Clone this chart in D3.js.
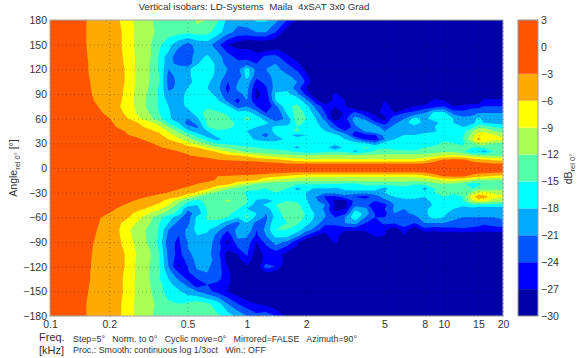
<!DOCTYPE html>
<html>
<head>
<meta charset="utf-8">
<script src="https://cdn.jsdelivr.net/npm/d3@7"></script>
<style>
  html, body { margin: 0; padding: 0; background: #fff; }
  text { font-family: "Liberation Sans", Arial, sans-serif; fill: #333; }
</style>
</head>
<body>
<div id="chart"></div>
<script>
const width = 580, height = 358;
const margin = { top: 20, right: 77, bottom: 42, left: 50 };

// frequency columns [kHz]
const freqs = [0.1,0.14,0.16,0.18,0.2,0.22,0.25,0.28,0.32,0.36,0.4,0.45,0.5,0.56,0.63,0.71,0.8,0.9,1,1.12,1.25,1.4,1.6,
  1.8,2,2.24,2.5,2.8,3.15,3.55,4,4.5,5,5.6,6.3,7.1,8,9,10,11.2,12.5,14,15,16,18,20];

// angle rows [deg]
const angles = [180,165,150,142,135,127,120,112,105,97,90,82,75,67,60,55,50,45,40,35,30,25,20,15,10,5,0,
  -5,-10,-15,-20,-25,-30,-35,-40,-45,-50,-55,-60,-67,-75,-82,-90,-97,-105,-112,-120,-127,-135,-142,-150,-165,-180];

// dB rel 0 deg, one row per angle
const dbRows = [
[0,-2,-3.5,-4.5,-4.5,-5.5,-8,-10,-11.5, -13,-13.5,-14,-14,-11,-12,-14.5,-19,-20,-19.5,-17.5,-17.5,-20,-24,
 -28,-30,-30,-30,-30,-30,-30,-30,-30,-30,-30,-30,-30,-30,-30,-30,-30,-30,-30,-30,-30,-30,-30],
[0,-2,-3.5,-4.5,-4.5,-5,-7.5,-10,-11, -13,-13.5,-14,-14.5,-14,-14,-16.5,-20,-22,-22,-21,-21,-24,-29,
 -30,-30,-30,-30,-30,-30,-30,-30,-30,-30,-30,-30,-30,-30,-30,-30,-30,-30,-30,-30,-30,-30,-30],
[0,-2,-3.5,-4.5,-4.5,-5,-7.5,-10,-11.5, -14.5,-17,-20,-22,-20,-19.5,-23,-27,-29,-30,-30,-30,-30,-30,
 -30,-30,-30,-30,-30,-30,-30,-30,-30,-30,-30,-30,-30,-30,-30,-30,-30,-30,-30,-30,-30,-30,-30],
[0,-2,-3.4,-4.5,-4.5,-5,-7.3,-10,-11.5, -15,-18,-22,-23,-20,-19,-21,-24.5,-26,-25.5,-27.5,-27,-26,-28,
 -30,-30,-30,-30,-30,-30,-30,-30,-30,-30,-30,-30,-30,-30,-30,-30,-30,-30,-30,-30,-30,-30,-30],
[0,-2,-3.3,-4.5,-4.5,-5,-7,-10,-11.5, -15.5,-20,-22.5,-23,-19,-17.5,-20,-22.5,-25,-25,-26,-23,-23,-26,
 -29,-30,-30,-30,-30,-30,-30,-30,-30,-30,-30,-30,-30,-30,-30,-30,-30,-30,-30,-30,-30,-30,-30],
[0,-2,-3.2,-4.5,-4.5,-5,-6.8,-10,-12, -15.5,-20,-22,-23,-18.5,-15,-19.5,-22,-23,-22.5,-24,-21.5,-21,-24,
 -26,-30,-30,-30,-30,-30,-30,-30,-30,-30,-30,-30,-30,-30,-30,-30,-30,-30,-30,-30,-30,-30,-30],
[0,-2,-3.2,-4.5,-4.5,-5,-6.5,-10,-12, -15.5,-21,-19,-19,-15.5,-15.5,-19,-21,-22,-16.5,-22,-21,-20,-22.5,
 -24.5,-28,-30,-30,-30,-30,-30,-30,-30,-30,-30,-30,-30,-30,-30,-30,-30,-30,-30,-30,-30,-30,-30],
[0,-2,-3.1,-4.5,-4.5,-5,-6.5,-10,-12, -15,-22,-20,-19,-16,-16.5,-19,-22,-24,-16.5,-23,-22,-20,-20.5,
 -22,-26,-30,-30,-30,-30,-30,-30,-30,-30,-30,-30,-30,-30,-30,-30,-30,-30,-30,-30,-30,-30,-30],
[0,-2,-3,-4.5,-4.5,-5,-6.5,-10,-12, -15,-22,-20.5,-19.5,-16.5,-17.5,-19.5,-24,-21,-19,-25,-23,-20,-19.5,
 -21,-24.5,-30,-30,-30,-30,-30,-30,-30,-30,-30,-30,-30,-30,-30,-30,-30,-30,-30,-30,-30,-30,-30],
[0,-1.8,-2.9,-4.5,-4.5,-5,-6.8,-10.2,-12.2, -15.5,-21.5,-20.5,-18,-16,-18,-20,-25,-20,-20,-27,-24.5,-19.5,-19,
 -22.5,-27,-30,-30,-30,-30,-30,-30,-30,-30,-30,-30,-30,-30,-30,-30,-30,-30,-30,-30,-30,-30,-30],
[0,-1.5,-2.7,-4.5,-4.5,-5,-7,-10.5,-12.5, -15.5,-20.5,-20,-17,-16.5,-17,-19,-24,-22,-20,-28,-25.5,-17.5,-17,
 -20,-25,-30,-30,-26,-30,-30,-30,-30,-30,-30,-30,-30,-30,-30,-30,-30,-30,-30,-30,-30,-30,-30],
[0,-1.2,-2.4,-4,-4.5,-5.2,-7.2,-10.3,-12.8, -15.5,-19,-20,-16.5,-16,-16.5,-17.5,-22,-25,-21,-27,-27,-18,-15.5,
 -16,-20,-26,-30,-26,-27,-30,-30,-30,-27,-30,-30,-30,-30,-26,-27,-28,-30,-30,-30,-26,-26,-26],
[0,-1,-2,-3.3,-4.5,-5.5,-7.5,-10,-13, -15.5,-18,-20,-17,-15.5,-15.5,-16.5,-17.5,-23,-21,-24,-27,-22,-15.5,
 -14.5,-17,-22,-25.5,-27,-27,-30,-30,-30,-26,-28,-30,-27,-26,-25,-24,-27,-26,-25,-25,-24,-24,-24],
[0,-0.8,-1.5,-2.7,-3.8,-4.8,-7,-9.5,-12, -15,-17.5,-20.5,-20,-16,-14,-14.5,-15.5,-16.5,-16.5,-19.5,-24,-24,-17.5,
 -13.5,-15.5,-19.5,-24,-30,-26,-23,-26,-28,-26,-27,-24,-23,-21,-17,-17,-22,-23,-22,-21,-21,-21,-21],
[0,-0.5,-1,-2,-2.9,-4,-6,-8.5,-11, -14,-17,-21,-21,-18.5,-14,-13.5,-14.5,-16.5,-14,-16.5,-19,-23,-20,
 -13,-15,-18,-22,-29,-25,-19.5,-22,-26,-28,-21.5,-21,-17,-19,-16,-15.5,-18,-20,-20,-17,-19.5,-20,-20],
[0,-0.2,-0.5,-1.2,-2.5,-3.6,-5.4,-6,-8, -11,-15.5,-18,-22.5,-20,-14.5,-13.5,-14,-15.5,-15.5,-17,-17.5,-20,-20,
 -14,-15.5,-17.5,-20,-25,-27,-20,-18.5,-23.5,-25,-22,-19,-16.5,-19,-19.5,-16,-18,-19,-19,-16.5,-18,-19,-19],
[0,0,0,-0.5,-2,-3.2,-4.5,-5.5,-6.5, -8.5,-12,-16,-20,-21.5,-15,-13.5,-14.5,-15.5,-16,-18,-19,-17.5,-17,
 -15,-15.5,-17,-19,-23,-27,-22,-18,-19,-23,-20,-18.5,-19,-20,-18,-16.5,-18,-18,-16,-13,-13,-15,-16],
[0,0,0,-0.2,-1,-2.2,-3.5,-4.3,-5.5, -6.5,-9.5,-13,-17,-20,-18,-15.5,-15.5,-16.5,-18,-20,-20,-17,-16,
 -14.5,-16,-16.5,-18,-20,-24,-24,-20.5,-18,-21,-20,-19,-19,-19,-18.5,-16,-18,-16.5,-12,-10,-9.5,-12,-13],
[0,0,0,0,-0.5,-1.5,-3,-3.5,-4.5, -5.5,-7.5,-10.5,-13,-16.5,-19.5,-17,-16,-16.5,-17,-20,-22,-18,-17,
 -19,-18,-16,-16.5,-17.5,-19,-26,-25,-24,-20,-19,-18,-18,-17,-16.5,-16,-17,-15.5,-10.5,-7,-7.5,-9,-10.5],
[0,0,0,0,0,-1,-2,-2.7,-3.5, -4.5,-6,-8.5,-10.5,-13.5,-16.5,-19,-16,-16.5,-17,-18.5,-20,-19,-17.5,
 -17,-16,-15.5,-16,-17,-18,-21,-24.5,-26,-21,-18,-17,-16.5,-16.5,-15.5,-15.5,-16,-15,-9,-5,-7,-8,-8],
[0,0,0,0,0,0,-0.5,-1,-2.8, -3.5,-4.5,-5.5,-8,-10.5,-13,-15.5,-15.5,-16,-16.5,-16.5,-16,-17,-18,
 -16,-15.5,-15.5,-16,-16,-16,-17,-18,-20,-17,-16.5,-16,-16.5,-16.5,-16,-14.5,-15,-15.5,-13,-10,-10,-12,-13],
[0,0,0,0,0,0,0,0,-1.5, -2.8,-3.5,-4,-4.5,-6,-9,-11.5,-13,-14,-14.5,-15,-15.5,-15.5,-16.5,
 -19,-16.5,-18,-16.5,-21.5,-16.5,-16,-14.5,-15.5,-15.5,-16,-17,-18,-15,-14.5,-14,-14,-14.5,-15,-15,-14.5,-14,-14.5],
[0,0,0,0,0,0,0,0,0, -1,-2.2,-3,-3.5,-4,-4.7,-6.5,-9.5,-11,-13,-13.5,-14,-14.5,-14.5,
 -15.5,-16.5,-16.5,-15.5,-15,-15.5,-19,-16,-14.5,-14,-14,-14,-14,-13.5,-13,-12.5,-12.5,-14,-18.5,-17,-19.5,-15,-14.5],
[0,0,0,0,0,0,0,0,0, 0,0,-1.5,-2.7,-3.5,-4,-4.5,-5,-5.7,-6.5,-8,-9.5,-10.5,-11,
 -11.5,-11,-11,-11,-11,-11,-11,-11,-11,-11,-11,-11,-11,-11,-10,-8.5,-8,-9,-11,-11.5,-12,-12,-12.5],
[0,0,0,0,0,0,0,0,0, 0,0,0,0,-1,-2,-3,-3.5,-4,-4.2,-4.5,-5,-5.5,-6.5,
 -7.5,-8.5,-8.5,-8.5,-8.5,-8.5,-8.5,-8.5,-8.5,-8.5,-8.5,-8.5,-8.5,-7,-4.5,-2.8,-2.4,-2.6,-4,-5,-5.5,-6.5,-7],
[0,0,0,0,0,0,0,0,0, 0,0,0,0,0,0,0,0,0,0,-1,-1.5,-2,-2.5,
 -2.7,-2.7,-2.7,-2.7,-2.7,-2.7,-2.7,-2.7,-2.7,-2.7,-2.7,-2.7,-2.7,-2.7,-1.5,-1,-1,-1,-1.5,-2,-2,-2.5,-2.5],
[0,0,0,0,0,0,0,0,0, 0,0,0,0,0,0,0,0,0,0,0,0,0,0,
 0,0,0,0,0,0,0,0,0,0,0,0,0,0,0,0,0,0,0,0,0,0,0],
[0,0,0,0,0,0,0,0,0, 0,0,0,0,0,0,0,0,0,0,-1,-1.5,-2,-2.5,
 -2.7,-2.7,-2.7,-2.7,-2.7,-2.7,-2.7,-2.7,-2.7,-2.7,-2.7,-2.7,-2.7,-2.7,-1.5,-1,-1,-1,-1.5,-2,-2,-2.5,-2.5],
[0,0,0,0,0,0,0,0,0, 0,0,0,0,-1,-2,-3,-3.5,-4,-4.2,-4.5,-5,-5.5,-6.5,
 -7.5,-8.5,-8.5,-8.5,-8.5,-8.5,-8.5,-8.5,-8.5,-8.5,-8.5,-8.5,-8.5,-7,-4.5,-2.8,-2.4,-2.6,-4,-5,-5.5,-6.5,-7],
[0,0,0,0,0,0,0,0,0, 0,0,0,-1,-1.8,-2.5,-3.2,-4,-4.5,-5,-6,-8,-10,-10.5,
 -11,-11,-11,-11,-11,-11,-11,-11,-11,-11,-11,-11,-11,-11,-10,-8.5,-8,-9,-11,-12,-12,-12,-12],
[0,0,0,0,0,0,0,0,0, -0.3,-0.8,-1.5,-2.3,-3.2,-4,-4.5,-5.8,-9,-11,-13,-14,-14.2,-14.5,
 -15,-15,-15,-15.5,-15.5,-16,-16,-14.5,-14.5,-14.5,-14.5,-14,-15,-14.5,-13,-12.5,-13,-14,-17,-16,-14,-13.5,-13.5],
[0,0,0,0,0,0,0,0,-0.5, -1.5,-2.3,-2.8,-3.5,-4.5,-5.5,-9,-11.5,-13,-14,-14.5,-15,-15,-15,
 -19,-17,-18.5,-18,-18.5,-17.5,-16.5,-16.5,-17,-19,-16,-16,-15.5,-19,-15,-13.5,-14,-14.5,-15,-13,-13,-13,-13],
[0,0,0,0,0,0,-0.5,-1,-1.7, -2.5,-3.1,-4,-5,-6.5,-10.5,-13,-14,-14,-15.5,-16,-15.5,-15,-15.5,
 -17,-18,-19,-20,-20,-19,-19.5,-20,-19,-18,-17,-16,-17.5,-17,-15,-14.5,-14.5,-14.5,-11,-9,-8,-9.5,-10],
[0,0,0,0,0,-0.5,-1.5,-2.4,-3.1, -4,-5,-5.8,-8.5,-12,-14.5,-13.5,-13,-13.5,-15,-16.5,-16,-15.5,-16,
 -16,-18,-21,-24.5,-25,-22.5,-24,-25,-23,-19.5,-18,-17,-17,-18,-15.5,-15,-16,-15,-7,-4,-4.5,-8,-8.5],
[0,0,0,0,-0.5,-1.5,-2.5,-3.4,-4.5, -5.3,-7,-11,-14.5,-16,-14,-13,-11.5,-13,-14.5,-18.5,-20,-17,-15,
 -15.5,-17.5,-20.5,-23,-28,-28,-23,-23,-24,-22,-20,-19,-19,-20,-16,-15.5,-15.5,-15,-10,-8,-8,-10.5,-11],
[0,0,0,-0.2,-1,-2.3,-3.5,-4.5,-5.5, -6.5,-9,-13,-16.5,-18,-14,-13.5,-13.5,-14,-15.5,-20,-17,-15,-13.5,
 -14,-17,-20,-21,-27,-28,-22,-23,-26,-25,-21,-20,-20,-21,-17,-16,-17,-17,-15.5,-16,-16.5,-16.5,-17],
[0,0,0,-0.5,-2,-3.3,-4.5,-5.5,-6.5, -8.5,-11.5,-15,-20.5,-19,-14.5,-13.5,-14,-15,-18,-19,-20,-15.5,-13.5,
 -13.5,-16.5,-19.5,-21.5,-28,-27,-19,-20,-26,-24,-20.5,-21,-18,-19,-16,-17,-18,-20,-19.5,-20,-20,-19.5,-19.5],
[0,0,-0.5,-1.7,-3,-4.2,-5.2,-6.8,-9, -11,-13.5,-16,-22,-20,-15,-14,-14,-16.5,-15,-18,-21,-16.5,-13.5,
 -12.5,-15.5,-18.5,-21,-26,-25,-16,-19,-24.5,-25,-21,-22,-20,-19,-15.5,-17,-20,-21,-20,-20,-20,-19,-20],
[0,0,-1,-2.9,-4,-5,-5.8,-8,-11, -14,-16.5,-20,-22.5,-17,-14.5,-14,-15,-17.5,-14,-19,-21.5,-17,-14,
 -13,-15.5,-18.5,-21,-24,-21,-15.5,-21,-24,-24,-22,-21.5,-22,-19,-17,-18,-20,-21,-21,-21,-21,-21,-20],
[0,-0.5,-1.5,-3.2,-4.2,-5.2,-7.5,-9.5,-11.8, -15,-18,-22,-22,-17,-15.5,-16.5,-20,-22,-18,-22,-21,-15.5,-15,
 -14.5,-17,-19.5,-23,-23.5,-21,-20,-24,-25,-23.5,-23.5,-22.5,-24,-21,-21,-21,-22,-22,-22.5,-22.5,-23.5,-23,-22.5],
[0,-1,-2,-3.5,-4.5,-5.5,-8.5,-11,-12.5, -15.5,-21,-24,-20,-17,-17.5,-20,-23.5,-20,-18.5,-24,-20,-15,-15,
 -16.5,-19.5,-22.5,-26,-25,-26,-26,-26,-26,-26,-30,-25,-30,-25,-26,-25.5,-25,-24.5,-25,-25.5,-25.5,-25,-25],
[0,-1.2,-2.2,-3.7,-4.5,-5.4,-8,-10.8,-12.5, -15.5,-22,-24,-20,-18,-18.5,-22,-26,-20,-20.5,-24.5,-21,-17,-17,
 -20,-24,-27,-28,-25,-30,-30,-30,-26,-27,-30,-27,-30,-30,-30,-29,-30,-30,-30,-30,-30,-30,-30],
[0,-1.5,-2.5,-4,-4.5,-5.2,-7.5,-10.5,-12.5, -16,-23,-24.5,-21,-19,-19,-23,-28,-22,-22,-27,-23,-20,-21.5,
 -26,-30,-30,-30,-26,-30,-30,-30,-30,-30,-30,-30,-30,-30,-30,-30,-30,-30,-30,-30,-30,-30,-30],
[0,-1.7,-2.6,-4.2,-4.5,-5.1,-7,-10,-12, -15.5,-22.5,-25,-21,-19.5,-19.5,-23,-26,-24,-23,-28,-25,-22,-25,
 -28,-30,-30,-30,-30,-30,-30,-30,-30,-30,-30,-30,-30,-30,-30,-30,-30,-30,-30,-30,-30,-30,-30],
[0,-1.8,-2.7,-4.5,-4.5,-5,-6.5,-9.5,-11.5, -15,-22,-25,-22,-19.5,-20,-23,-28.5,-27,-23.5,-29,-26,-26,-28,
 -30,-30,-30,-30,-30,-30,-30,-30,-30,-30,-30,-30,-30,-30,-30,-30,-30,-30,-30,-30,-30,-30,-30],
[0,-1.9,-2.8,-4.5,-4.5,-5,-6.5,-9.8,-11.8, -15,-21.5,-26,-23,-20,-20,-22,-28.5,-28,-25,-29,-26,-25,-28,
 -30,-30,-30,-30,-30,-30,-30,-30,-30,-30,-30,-30,-30,-30,-30,-30,-30,-30,-30,-30,-30,-30,-30],
[0,-2,-2.9,-4.5,-4.5,-5,-6.5,-10,-12, -15,-21,-27.5,-24,-20.5,-20.5,-22.5,-27,-29,-27.5,-29,-22.5,-24,-30,
 -30,-30,-30,-30,-30,-30,-30,-30,-30,-30,-30,-30,-30,-30,-30,-30,-30,-30,-30,-30,-30,-30,-30],
[0,-2,-3,-4.5,-4.5,-5,-6.8,-10,-12, -14.5,-19.5,-24,-24.5,-21.5,-21,-22.5,-26,-30,-30,-30,-27,-28,-30,
 -30,-30,-30,-30,-30,-30,-30,-30,-30,-30,-30,-30,-30,-30,-30,-30,-30,-30,-30,-30,-30,-30,-30],
[0,-2,-3,-4.5,-4.5,-5,-7,-10,-12, -15,-18,-21.5,-24.5,-24,-21.5,-23,-26,-30,-30,-30,-30,-30,-30,
 -30,-30,-30,-30,-30,-30,-30,-30,-30,-30,-30,-30,-30,-30,-30,-30,-30,-30,-30,-30,-30,-30,-30],
[0,-2,-3.1,-4.5,-4.5,-5,-7,-10,-11.8, -14,-17,-19.5,-21.5,-26,-24,-25,-26.5,-30,-30,-30,-30,-30,-30,
 -30,-30,-30,-30,-30,-30,-30,-30,-30,-30,-30,-30,-30,-30,-30,-30,-30,-30,-30,-30,-30,-30,-30],
[0,-2,-3.2,-4.5,-4.5,-5,-7,-10,-11.5, -14,-16.5,-17.5,-19.5,-21,-23,-25,-27,-29,-30,-30,-30,-30,-30,
 -30,-30,-30,-30,-30,-30,-30,-30,-30,-30,-30,-30,-30,-30,-30,-30,-30,-30,-30,-30,-30,-30,-30],
[0,-2,-3.5,-4.5,-4.5,-5.2,-7.5,-10,-11, -13,-14.5,-15,-14.5,-13.5,-14.5,-16.5,-21,-24,-26,-27,-28,-29.5,-30,
 -30,-30,-30,-30,-30,-30,-30,-30,-30,-30,-30,-30,-30,-30,-30,-30,-30,-30,-30,-30,-30,-30,-30],
[0,-2,-3.5,-4.5,-4.5,-5.2,-7.5,-10,-11.5, -13,-13.5,-14,-14,-12,-13,-14.5,-16.5,-19,-21,-23,-22,-24,-28,
 -30,-30,-30,-30,-30,-30,-30,-30,-30,-30,-30,-30,-30,-30,-30,-30,-30,-30,-30,-30,-30,-30,-30]
];

// isobar levels and the colour of the band above each level
const levels = [-30,-27,-24,-21,-18,-15,-12,-9,-6,-3];
const bandColors = ["#0000aa","#0000ff","#0055ff","#00aaff","#00ffff","#55ffaa","#aaff55","#ffff00","#ffaa00","#ff5500"];
const barTicks = [3,0,-3,-6,-9,-12,-15,-18,-21,-24,-27,-30];
const freqTicks = [0.1,0.2,0.5,1,2,5,8,10,15,20];
const angleTicks = [180,150,120,90,60,30,0,-30,-60,-90,-120,-150,-180];

dbRows.forEach((r, i) => { if (r.length !== freqs.length) throw new Error(`row ${i} has ${r.length}`); });
if (dbRows.length !== angles.length) throw new Error("rows " + dbRows.length);

const innerWidth = 453, innerHeight = 296;

const x = d3.scaleLog().domain([0.1, 20]).range([0, innerWidth]);
const y = d3.scaleLinear().domain([180, -180]).range([0, innerHeight]);

// contour coordinates to pixels, cell centres sit at index + 0.5
const xGrid = d3.scaleLinear().domain(freqs.map((_, i) => i + 0.5)).range(freqs.map(f => x(f))).clamp(true);
const yGrid = d3.scaleLinear().domain(angles.map((_, i) => i + 0.5)).range(angles.map(a => y(a))).clamp(true);

const svg = d3.select("#chart").append("svg")
  .attr("width", width).attr("height", height)
  .style("display", "block");

const g = svg.append("g").attr("transform", `translate(${margin.left},${margin.top})`);

const contours = d3.contours()
  .size([freqs.length, angles.length])
  .smooth(true)
  .thresholds(levels.slice(1))(dbRows.flat());

const path = d3.geoPath(d3.geoTransform({
  point(px, py) { this.stream.point(xGrid(px), yGrid(py)); }
}));

const marks = g.append("g").style("filter", "blur(0.5px)");

marks.append("rect")
  .attr("width", innerWidth).attr("height", innerHeight)
  .attr("fill", bandColors[0]);

marks.selectAll("path.band")
  .data(contours)
  .join("path")
    .attr("class", "band")
    .attr("d", path)
    .attr("fill", (d, i) => bandColors[i + 1]);

// axes, dotted grid comes from the long ticks
const xAxis = g.append("g")
  .attr("transform", `translate(0,${innerHeight})`)
  .call(d3.axisBottom(x).tickValues(freqTicks).tickFormat(d => d).tickSize(-innerHeight).tickPadding(5));

const yAxis = g.append("g")
  .call(d3.axisLeft(y).tickValues(angleTicks).tickSize(-innerWidth).tickPadding(3));

[xAxis, yAxis].forEach(a => {
  a.select(".domain").remove();
  a.selectAll(".tick line")
    .attr("stroke", "#000")
    .attr("stroke-opacity", 0.3)
    .attr("stroke-dasharray", "1,3");
  a.selectAll("text").attr("font-size", 10.5).attr("font-family", null);
});

g.append("rect")
  .attr("width", innerWidth).attr("height", innerHeight)
  .attr("fill", "none").attr("stroke", "#aaa");

// colour bar
const barX = 518 - margin.left, barW = 20;
const yBar = d3.scaleLinear().domain([3, -30]).range([0, innerHeight]);
const bar = g.append("g").attr("transform", `translate(${barX},0)`);

bar.selectAll("rect")
  .data(bandColors)
  .join("rect")
    .attr("y", (d, i) => yBar(i === 9 ? 3 : levels[i + 1]))
    .attr("width", barW)
    .attr("height", (d, i) => yBar(levels[i]) - yBar(i === 9 ? 3 : levels[i + 1]))
    .attr("fill", d => d);

bar.append("rect")
  .attr("width", barW).attr("height", innerHeight)
  .attr("fill", "none").attr("stroke", "#999");

const barAxis = bar.append("g")
  .attr("transform", `translate(${barW},0)`)
  .call(d3.axisRight(yBar).tickValues(barTicks).tickSize(0).tickPadding(3));
barAxis.select(".domain").remove();
barAxis.selectAll("text").attr("font-size", 10.5).attr("font-family", null);

// texts
svg.append("text")
  .attr("x", 254).attr("y", 10)
  .attr("text-anchor", "middle").attr("font-size", 9.8)
  .style("white-space", "pre")
  .text("Vertical isobars: LD-Systems  Maila  4xSAT 3x0 Grad");

const yLabel = svg.append("text")
  .attr("transform", "translate(17,168) rotate(-90)")
  .attr("text-anchor", "middle").attr("font-size", 10.5);
yLabel.append("tspan").text("Angle");
yLabel.append("tspan").attr("font-size", 7.5).attr("dy", 3).text("rel 0°");
yLabel.append("tspan").attr("dy", -3).text(" [°]");

const barLabel = svg.append("text")
  .attr("transform", "translate(572,169) rotate(-90)")
  .attr("text-anchor", "middle").attr("font-size", 10.5);
barLabel.append("tspan").text("dB");
barLabel.append("tspan").attr("font-size", 7.5).attr("dy", 3).text("rel 0°");

svg.append("text").attr("x", 39).attr("y", 341).attr("font-size", 11).text("Freq.");
svg.append("text").attr("x", 39).attr("y", 354).attr("font-size", 11).text("[kHz]");

svg.append("text").attr("x", 73).attr("y", 342).attr("font-size", 8.9)
  .style("white-space", "pre")
  .text("Step=5°   Norm. to 0°   Cyclic move=0°   Mirrored=FALSE   Azimuth=90°");
svg.append("text").attr("x", 73).attr("y", 353).attr("font-size", 8.9)
  .style("white-space", "pre")
  .text("Proc.: Smooth: continuous log 1/3oct   Win.: OFF");
</script>
</body>
</html>
